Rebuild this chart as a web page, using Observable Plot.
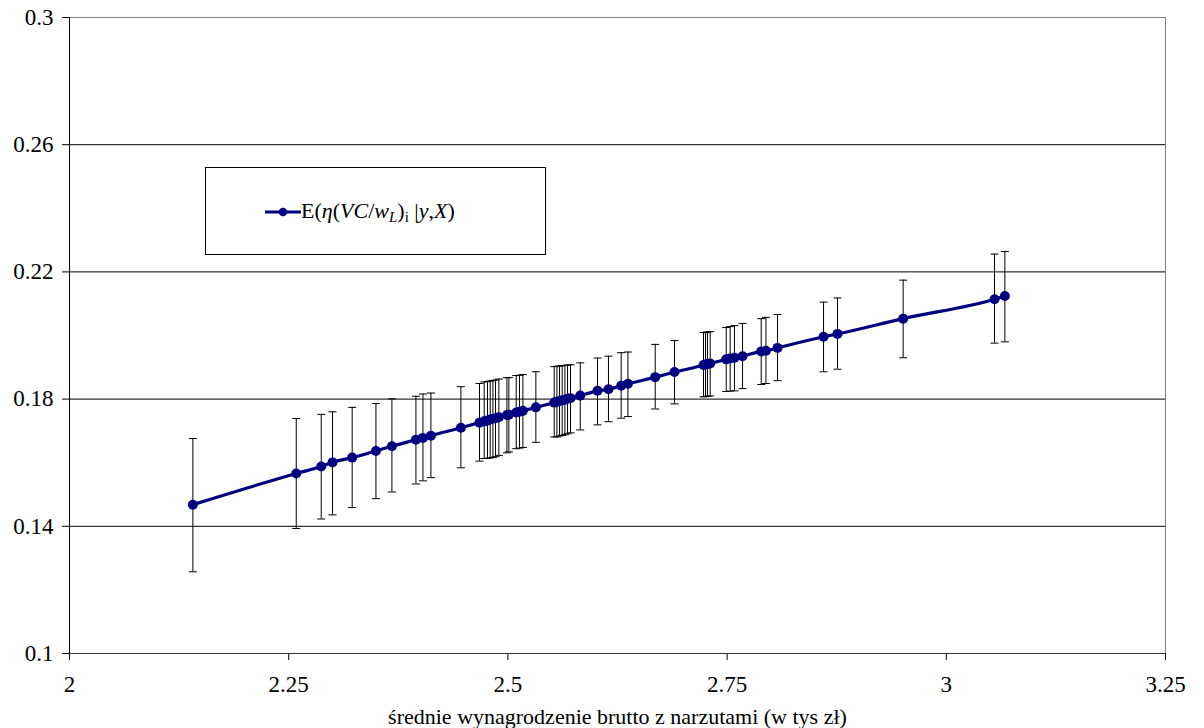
<!DOCTYPE html>
<html>
<head>
<meta charset="utf-8">
<script src="https://cdn.jsdelivr.net/npm/d3@7"></script>
<script src="https://cdn.jsdelivr.net/npm/@observablehq/plot@0.6"></script>
<style>
  body { margin: 0; background: #fff; }
  #wrap { position: relative; width: 1204px; height: 728px; }
  #wrap svg, #wrap svg text { font-family: "Liberation Serif", "DejaVu Serif", serif !important; }
  #legend {
    position: absolute; left: 205px; top: 167px; width: 339px; height: 86px;
    border: 1px solid #000; background: #fff;
    font-family: "Liberation Serif", "DejaVu Serif", serif; font-size: 22px;
  }
  #legend svg { position: absolute; left: 59px; top: 39px; }
  #legend .lbl { position: absolute; left: 95px; top: 30px; white-space: nowrap; }
  #legend sub { font-size: 15px; vertical-align: -4px; line-height: 0; }
</style>
</head>
<body>
<div id="wrap"></div>
<script>
// Mean wage with overheads (thousand zł)
const wage = [
  2.1407, 2.2586, 2.2871, 2.3000, 2.3224, 2.3495, 2.3677, 2.3951, 2.4031, 2.4122,
  2.4464, 2.4676, 2.4730, 2.4767, 2.4798, 2.4829, 2.4859, 2.4897, 2.4989, 2.5011,
  2.5095, 2.5132, 2.5171, 2.5319, 2.5528, 2.5559, 2.5589, 2.5619, 2.5650, 2.5680,
  2.5714, 2.5825, 2.6022, 2.6147, 2.6292, 2.6369, 2.6680, 2.6900, 2.7231, 2.7254,
  2.7276, 2.7307, 2.7490, 2.7535, 2.7584, 2.7676, 2.7889, 2.7943, 2.8075, 2.8600,
  2.8759, 2.9508, 3.0550, 3.0668
];
// Posterior mean E(eta(VC/w_L)_i | y, X)
const meanEta = [
  0.1468, 0.1566, 0.1588, 0.1601, 0.1616, 0.1637, 0.1652, 0.1672, 0.1678, 0.1685,
  0.1710, 0.1726, 0.1730, 0.1733, 0.1736, 0.1738, 0.1740, 0.1743, 0.1750, 0.1751,
  0.1758, 0.1760, 0.1763, 0.1774, 0.1789, 0.1792, 0.1794, 0.1796, 0.1798, 0.1801,
  0.1803, 0.1811, 0.1826, 0.1831, 0.1842, 0.1848, 0.1869, 0.1885, 0.1907, 0.1909,
  0.1910, 0.1912, 0.1925, 0.1928, 0.1930, 0.1935, 0.1950, 0.1952, 0.1961, 0.1996,
  0.2005, 0.2053, 0.2114, 0.2124
];
// Lower end of the interval
const lowEta = [
  0.1257, 0.1393, 0.1423, 0.1436, 0.1459, 0.1487, 0.1508, 0.1533, 0.1543, 0.1553,
  0.1584, 0.1605, 0.1613, 0.1614, 0.1615, 0.1616, 0.1619, 0.1623, 0.1631, 0.1634,
  0.1644, 0.1646, 0.1648, 0.1664, 0.1681, 0.1681, 0.1684, 0.1686, 0.1688, 0.1691,
  0.1694, 0.1703, 0.1719, 0.1729, 0.1740, 0.1745, 0.1769, 0.1785, 0.1807, 0.1808,
  0.1809, 0.1810, 0.1824, 0.1825, 0.1826, 0.1833, 0.1846, 0.1849, 0.1858, 0.1886,
  0.1894, 0.1930, 0.1976, 0.1980
];
// Upper end of the interval
const highEta = [
  0.1676, 0.1739, 0.1752, 0.1760, 0.1774, 0.1786, 0.1801, 0.1809, 0.1816, 0.1819,
  0.1839, 0.1849, 0.1854, 0.1855, 0.1857, 0.1858, 0.1860, 0.1863, 0.1867, 0.1868,
  0.1874, 0.1875, 0.1877, 0.1886, 0.1902, 0.1903, 0.1904, 0.1905, 0.1906, 0.1907,
  0.1908, 0.1914, 0.1929, 0.1935, 0.1946, 0.1948, 0.1972, 0.1984, 0.2009, 0.2010,
  0.2011, 0.2012, 0.2025, 0.2028, 0.2031, 0.2038, 0.2053, 0.2057, 0.2066, 0.2105,
  0.2118, 0.2174, 0.2256, 0.2264
];

const xTicks = [2, 2.25, 2.5, 2.75, 3, 3.25];
const yTicks = [0.1, 0.14, 0.18, 0.22, 0.26, 0.3];
const yGrid = [0.14, 0.18, 0.22, 0.26];
const xTitle = "średnie wynagrodzenie brutto z narzutami (w tys zł)";

const rows = wage.map((w, i) => ({w, m: meanEta[i], lo: lowEta[i], hi: highEta[i]}));

// horizontal cap symbol for the error bars
const capSymbol = {
  draw(ctx, size) {
    const h = Math.sqrt(size / Math.PI);
    ctx.moveTo(-h, 0);
    ctx.lineTo(h, 0);
  }
};

const navy = "#000080";
const serif = "Liberation Serif";

const chart = Plot.plot({
  width: 1204,
  height: 728,
  marginLeft: 69,
  marginRight: 39,
  marginTop: 17,
  marginBottom: 75,
  style: {background: "#fff", color: "#000", fontFamily: serif},
  x: {domain: [2, 3.25]},
  y: {domain: [0.1, 0.3]},
  marks: [
    Plot.ruleY(yGrid, {stroke: "#000", strokeWidth: 1}),
    Plot.ruleY([0.3], {stroke: "#808080", strokeWidth: 1}),
    Plot.ruleX([3.25], {stroke: "#808080", strokeWidth: 1}),
    Plot.axisY({ticks: yTicks, tickSize: 7, tickPadding: 9, fontSize: 23, fontFamily: serif,
      tickFormat: d => String(d), label: null}),
    Plot.axisX({ticks: xTicks, tickSize: 7, tickPadding: 15, fontSize: 23, fontFamily: serif,
      tickFormat: d => String(d), label: null}),
    Plot.axisX({ticks: [], tickSize: 0, fontSize: 22, fontFamily: serif,
      label: xTitle, labelAnchor: "center", labelArrow: "none", labelOffset: 70}),
    Plot.ruleX([2], {stroke: "#000"}),
    Plot.ruleY([0.1], {stroke: "#333"}),
    // error bars
    Plot.ruleX(rows, {x: "w", y1: "lo", y2: "hi", stroke: "#000", strokeWidth: 1}),
    Plot.dot(rows, {x: "w", y: "lo", symbol: capSymbol, r: 4, stroke: "#000", strokeWidth: 1, fill: "none"}),
    Plot.dot(rows, {x: "w", y: "hi", symbol: capSymbol, r: 4, stroke: "#000", strokeWidth: 1, fill: "none"}),
    // smoothed mean line with markers
    Plot.line(rows, {x: "w", y: "m", stroke: navy, strokeWidth: 3.2, curve: "monotone-x"}),
    Plot.dot(rows, {x: "w", y: "m", r: 5, fill: navy, stroke: "none"})
  ]
});

const wrap = document.getElementById("wrap");
wrap.appendChild(chart);

const legend = document.createElement("div");
legend.id = "legend";
legend.innerHTML =
  '<svg width="36" height="10"><line x1="0" y1="5" x2="36" y2="5" stroke="' + navy + '" stroke-width="3.2"/>' +
  '<circle cx="18" cy="5" r="4.2" fill="' + navy + '"/></svg>' +
  '<span class="lbl">E(<i>η</i>(<i>VC</i>/<i>w<sub>L</sub></i>)<sub>i</sub> |<i>y</i>,<i>X</i>)</span>';
wrap.appendChild(legend);
</script>
</body>
</html>
